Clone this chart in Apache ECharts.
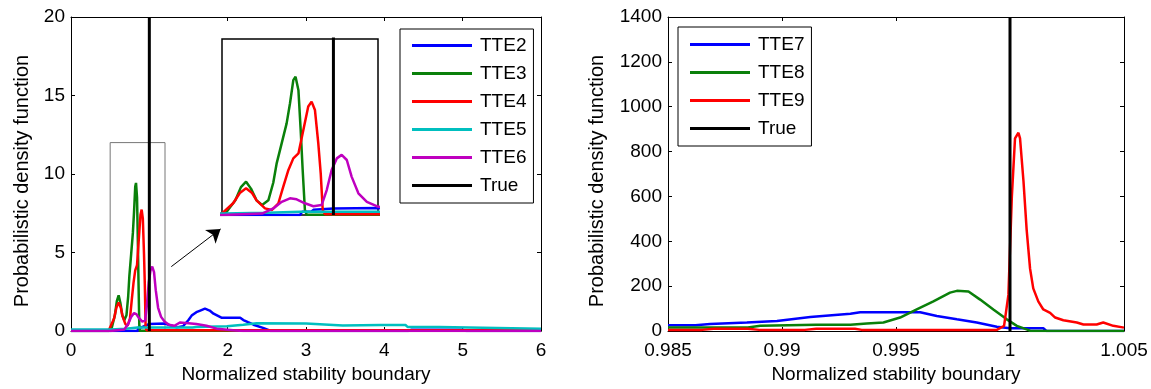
<!DOCTYPE html>
<html>
<head>
<meta charset="utf-8">
<script src="https://cdn.jsdelivr.net/npm/echarts@6/dist/echarts.min.js"></script>
<style>
  html, body { margin: 0; padding: 0; background: #fff; }
  #chart { width: 1151px; height: 389px; }
</style>
</head>
<body>
<div id="chart"></div>
<script>
// ---- Left panel: PDFs of normalized stability boundary, TTE2..TTE6 ----
const tte2 = [[0,0],[0.85,0],[0.86,0.23],[0.9,0.23],[0.91,0.35],[1.0,0.45],[1.2,0.48],[1.3,0.3],[1.35,0.23],[1.43,0.3],[1.5,0.7],[1.54,0.98],[1.6,1.2],[1.65,1.3],[1.71,1.42],[1.77,1.3],[1.82,1.1],[1.92,0.85],[2.16,0.85],[2.2,0.7],[2.26,0.56],[2.33,0.4],[2.46,0.18],[2.55,0],[4.3,0],[4.35,0.08],[5.0,0.08],[5.05,0],[6,0]];
const tte3 = [[0,0],[0.48,0],[0.52,0.2],[0.56,1.0],[0.585,1.9],[0.608,2.27],[0.63,1.8],[0.655,1.0],[0.68,0.68],[0.708,1.0],[0.73,2.2],[0.745,3.5],[0.768,4.9],[0.79,6.25],[0.805,7.6],[0.82,9.2],[0.83,9.43],[0.843,8.5],[0.853,5.8],[0.862,3.07],[0.872,0.34],[0.88,0.02],[6,0.02]];
const tte4 = [[0,0.02],[0.48,0.02],[0.5,0.1],[0.55,0.8],[0.58,1.5],[0.608,1.82],[0.635,1.5],[0.655,1.0],[0.693,0.45],[0.723,0.34],[0.753,0.8],[0.775,1.93],[0.798,3.07],[0.82,3.86],[0.843,4.2],[0.865,5.8],[0.887,7.4],[0.902,7.73],[0.917,7.16],[0.932,4.9],[0.943,2.84],[0.952,0.34],[0.962,0.05],[6,0.05]];
const tte5 = [[0,0.1],[0.5,0.1],[0.7,0.15],[0.85,0.22],[1.55,0.22],[1.6,0.25],[1.99,0.3],[2.2,0.4],[2.37,0.5],[3.0,0.47],[3.47,0.35],[3.95,0.38],[4.27,0.38],[4.3,0.25],[4.7,0.25],[4.72,0.15],[6,0.15]];
const tte6 = [[0,0],[0.5,0],[0.68,0.1],[0.73,0.45],[0.768,0.9],[0.805,1.14],[0.835,1.07],[0.872,0.8],[0.91,0.6],[0.947,0.68],[0.97,1.7],[0.992,3.07],[1.015,3.86],[1.037,4.1],[1.06,3.75],[1.082,2.6],[1.112,1.48],[1.15,0.9],[1.194,0.6],[1.25,0.4],[1.32,0.33],[1.39,0.54],[1.5,0.5],[1.6,0.44],[1.73,0.33],[1.86,0.15],[2.07,0.05],[2.2,0],[6,0]];
const trueLeft = [[1,0],[1,20]];

// zoom window shown in the inset, and the arrow pointing to it
const zoomX = [0.5, 1.2];
const zoomY = [0, 12];
const arrowFrom = [1.28, 4.1];
const arrowTo = [1.91, 6.5];

// ---- Right panel: TTE7..TTE9 ----
const tte7 = [[0.985,26],[0.9862,26],[0.98685,31],[0.98846,38],[0.98978,45],[0.99124,62],[0.993,77],[0.99343,84],[0.99606,84],[0.99679,67],[0.99767,52],[0.99854,38],[0.99942,19],[1.0,12],[1.00146,12],[1.0016,0],[1.005,0]];
const tte8 = [[0.985,16],[0.9885,16],[0.98905,23],[0.9915,28],[0.993,28],[0.99372,33],[0.99445,38],[0.99518,60],[0.99591,96],[0.99664,132],[0.99737,171],[0.99767,179],[0.99818,176],[0.99869,140],[0.99927,96],[0.99986,52],[1.0003,23],[1.00073,7],[1.0009,0],[1.005,0]];
const tte9 = [[0.985,5],[0.9865,5],[0.987,10],[0.9885,10],[0.989,5],[0.991,5],[0.9915,10],[0.9932,10],[0.9935,5],[0.99942,5],[0.99974,23],[0.99993,161],[1.00008,597],[1.00022,859],[1.00037,884],[1.00044,859],[1.00059,670],[1.00073,452],[1.00088,278],[1.00102,190],[1.00124,132],[1.00146,96],[1.00176,81],[1.00198,60],[1.00234,48],[1.00293,38],[1.00322,29],[1.0038,29],[1.00409,38],[1.00453,23],[1.005,15]];
const trueRight = [[1,0],[1,1400]];

// ---- tick labels ----
const leftXTicks = ['0','1','2','3','4','5','6'];
const leftYTicks = ['0','5','10','15','20'];
const rightXTicks = ['0.985','0.99','0.995','1','1.005'];
const rightYTicks = ['0','200','400','600','800','1000','1200','1400'];

const xTitle = 'Normalized stability boundary';
const yTitle = 'Probabilistic density function';

const FONT = "'Liberation Sans', Arial, sans-serif";
const FS = 19;
const COLORS = {
  TTE2: '#0000ff', TTE3: '#0a800a', TTE4: '#ff0000', TTE5: '#00bfbf', TTE6: '#bf00bf',
  TTE7: '#0000ff', TTE8: '#0a800a', TTE9: '#ff0000', True: '#000000'
};

function labelFrom(list, min, step) {
  return function (v) {
    const i = Math.round((v - min) / step);
    return list[i] !== undefined ? list[i] : '';
  };
}

function mainAxis(pos, gridIndex, min, max, interval, labels, showLabel, name, nameGap, nameStyle) {
  const isX = pos === 'bottom' || pos === 'top';
  return {
    type: 'value', gridIndex: gridIndex, position: pos, min: min, max: max, interval: interval,
    axisLine: { show: true, onZero: false, lineStyle: { color: '#000', width: 1 } },
    axisTick: { show: true, inside: true, length: 4, lineStyle: { color: '#000' } },
    axisLabel: { show: showLabel, color: '#000', fontFamily: FONT, fontSize: FS,
                 margin: isX ? 10 : 6, formatter: labelFrom(labels, min, interval) },
    splitLine: { show: false },
    name: name || '', nameLocation: 'middle', nameGap: nameGap || 0,
    nameTextStyle: Object.assign({ color: '#000', fontFamily: FONT, fontSize: FS }, nameStyle || {})
  };
}

function hiddenAxis(gridIndex, min, max) {
  return { type: 'value', gridIndex: gridIndex, min: min, max: max, show: false,
           axisLine: { onZero: false }, splitLine: { show: false } };
}

function curve(name, data, xi, yi, width, z) {
  return {
    name: name, type: 'line', data: data, xAxisIndex: xi, yAxisIndex: yi,
    showSymbol: false, symbol: 'none', clip: true, animation: false, silent: true,
    lineStyle: { color: COLORS[name], width: width || 2.5 },
    itemStyle: { color: COLORS[name] },
    z: (z || 2) + (name === 'True' ? 1 : 0)
  };
}

const leftSets = [['TTE2', tte2], ['TTE3', tte3], ['TTE4', tte4], ['TTE5', tte5], ['TTE6', tte6]];
const rightSets = [['TTE7', tte7], ['TTE8', tte8], ['TTE9', tte9]];

const series = [];
leftSets.forEach(([n, d]) => series.push(curve(n, d, 0, 0)));
const trueMain = curve('True', trueLeft, 0, 0, 3);
trueMain.markArea = {
  silent: true,
  itemStyle: { color: 'rgba(0,0,0,0)', borderColor: '#777', borderWidth: 1 },
  data: [[{ coord: [zoomX[0], zoomY[0]] }, { coord: [zoomX[1], zoomY[1]] }]]
};
trueMain.markLine = {
  silent: true, animation: false,
  symbol: ['none', 'arrow'], symbolSize: 13,
  label: { show: false },
  lineStyle: { color: '#000', width: 1, type: 'solid' },
  data: [[{ coord: arrowFrom }, { coord: arrowTo }]]
};
series.push(trueMain);

// inset: the same curves, zoomed on the window
leftSets.forEach(([n, d]) => series.push(curve(n, d, 4, 4, 2.5, 8)));
series.push(curve('True', trueLeft, 4, 4, 3, 8));

rightSets.forEach(([n, d]) => series.push(curve(n, d, 2, 2)));
series.push(curve('True', trueRight, 2, 2, 3));

const legendBase = {
  orient: 'vertical', icon: 'rect', itemWidth: 60, itemHeight: 3, itemGap: 9,
  borderColor: '#000', borderWidth: 1, backgroundColor: '#fff',
  textStyle: { color: '#000', fontFamily: FONT, fontSize: FS, padding: [0, 0, 0, 3], lineHeight: 19 },
  selectedMode: false, z: 10
};

// rotated axis titles sit a little below the axis midpoint
const yNameStyle = { fontSize: 20, padding: [0, 14, 0, 0] };

const option = {
  animation: false,
  backgroundColor: '#fff',
  grid: [
    { left: 71, top: 17, width: 470, height: 320 },
    { left: 668, top: 17, width: 456, height: 320 },
    { left: 222, top: 39, width: 156, height: 176, show: true, backgroundColor: '#fff',
      borderColor: '#000', borderWidth: 1.5, z: 4 }
  ],
  xAxis: [
    mainAxis('bottom', 0, 0, 6, 1, leftXTicks, true, xTitle, 34),
    mainAxis('top', 0, 0, 6, 1, leftXTicks, false),
    mainAxis('bottom', 1, 0.985, 1.005, 0.005, rightXTicks, true, xTitle, 34),
    mainAxis('top', 1, 0.985, 1.005, 0.005, rightXTicks, false),
    hiddenAxis(2, zoomX[0], zoomX[1])
  ],
  yAxis: [
    mainAxis('left', 0, 0, 20, 5, leftYTicks, true, yTitle, 39, yNameStyle),
    mainAxis('right', 0, 0, 20, 5, leftYTicks, false),
    mainAxis('left', 1, 0, 1400, 200, rightYTicks, true, yTitle, 61, yNameStyle),
    mainAxis('right', 1, 0, 1400, 200, rightYTicks, false),
    hiddenAxis(2, zoomY[0], zoomY[1])
  ],
  legend: [
    Object.assign({}, legendBase, { left: 400, top: 29, padding: [7, 7, 8, 12],
      data: ['TTE2', 'TTE3', 'TTE4', 'TTE5', 'TTE6', 'True'] }),
    Object.assign({}, legendBase, { left: 678, top: 27, padding: [8, 7, 8, 12],
      data: ['TTE7', 'TTE8', 'TTE9', 'True'] })
  ],
  series: series
};

const chart = echarts.init(document.getElementById('chart'), null, { renderer: 'canvas' });
chart.setOption(option);
</script>
</body>
</html>
